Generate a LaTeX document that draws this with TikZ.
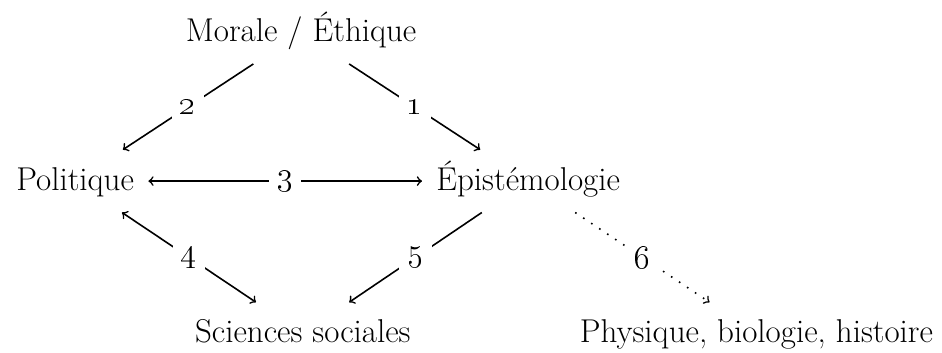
\documentclass[tikz,border=0pt]{standalone}
\usepackage{tikz}

\begin{document}
\begin{tikzpicture}
% définition des styles
\tikzstyle{notion}=[inner sep=7pt, text height=13pt, text depth=4pt, anchor=base, font=\fontsize{16.5}{20}\selectfont]
\tikzstyle{lien}=[->, thick]
\tikzstyle{liendouble}=[<->, thick]
\tikzstyle{lienpointille}=[->, thick, loosely dotted]
\tikzstyle{numero}=[midway, fill=white, inner sep=4pt, font=\fontsize{17.5}{20}\selectfont]

\useasboundingbox (0,0) rectangle (16.55,-6.19);

% les nœuds
\node[notion] (ME) at (5.29,-0.73) {Morale / Éthique};
\node[notion] (PO) at (1.32,-3.34) {Politique};
\node[notion] (EP) at (9.28,-3.34) {Épistémologie};
\node[notion] (SS) at (5.32,-6.02) {Sciences sociales};
\node[notion] (PB) at (13.29,-6.02) {Physique, biologie, histoire};

% les flèches
\draw[lien] (ME)--(EP) node[numero]{\oldstylenums{1}};
\draw[lien] (ME)--(PO) node[numero]{\oldstylenums{2}};
\draw[liendouble] (PO)--(EP) node[numero]{\oldstylenums{3}};
\draw[liendouble] (PO)--(SS) node[numero]{\oldstylenums{4}};
\draw[lien] (EP)--(SS) node[numero]{\oldstylenums{5}};
\draw[lienpointille] (EP)--(PB) node[numero]{\oldstylenums{6}};
\end{tikzpicture}
\end{document}
